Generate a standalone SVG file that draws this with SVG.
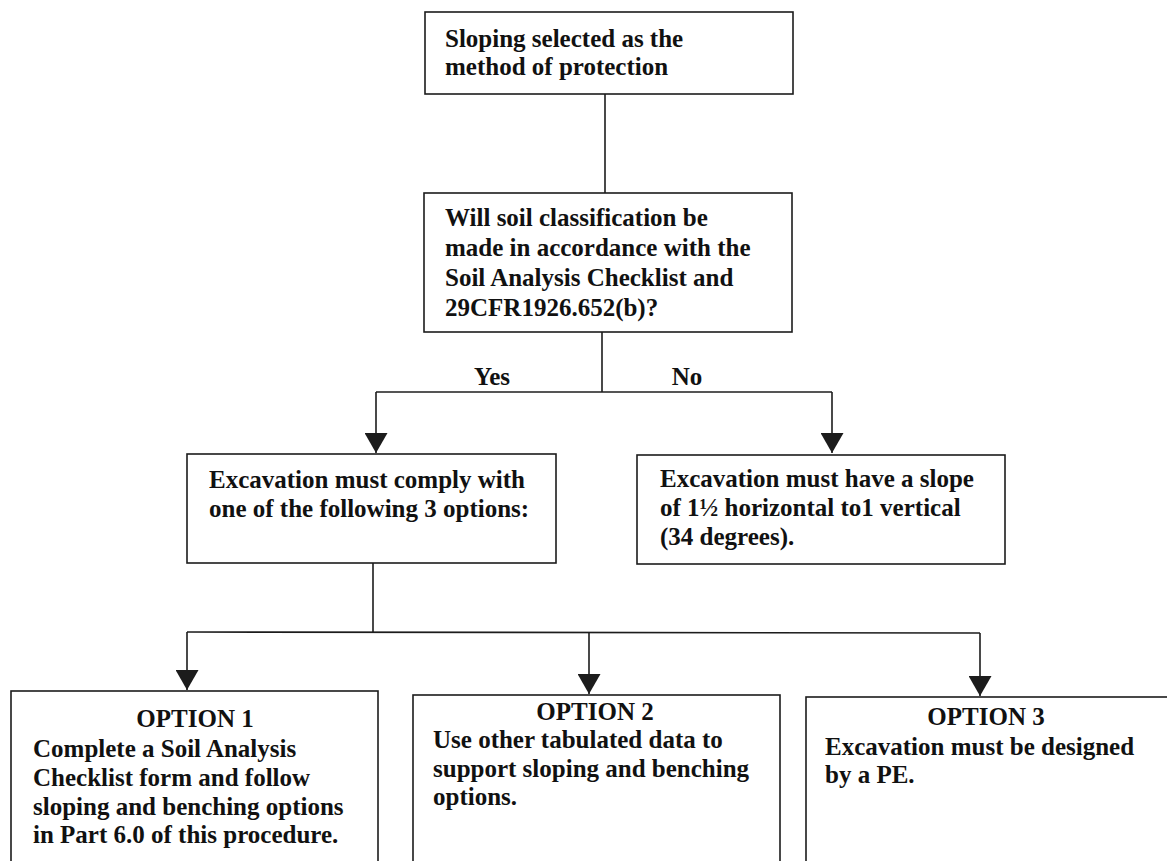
<svg xmlns="http://www.w3.org/2000/svg" width="1167" height="861" viewBox="0 0 1167 861">
<defs>
<style>
.box{fill:#fff;stroke:#1c1c1c;stroke-width:1.6}
.ln{fill:none;stroke:#1c1c1c;stroke-width:1.6}
text{font-family:"Liberation Serif","Times New Roman",serif;font-weight:bold;font-size:25px;fill:#111}
.c{text-anchor:middle}
</style>
<marker id="ah" markerUnits="userSpaceOnUse" markerWidth="20" markerHeight="23" refX="20" refY="11.5" orient="auto" viewBox="0 0 20 23">
<polygon points="0,0 20,11.5 0,23" fill="#1c1c1c"/>
</marker>
</defs>
<rect width="1167" height="861" fill="#fff"/>
<g id="connectors">
<line class="ln" x1="605" y1="94" x2="605" y2="193"/>
<polyline class="ln" points="602,332 602,392"/>
<polyline class="ln" points="376,392 832,392"/>
<line class="ln" x1="376" y1="392" x2="376" y2="453" marker-end="url(#ah)"/>
<line class="ln" x1="832" y1="392" x2="832" y2="453" marker-end="url(#ah)"/>
<polyline class="ln" points="373,563 373,632"/>
<polyline class="ln" points="187,632 980,633"/>
<line class="ln" x1="187" y1="632" x2="187" y2="690" marker-end="url(#ah)"/>
<line class="ln" x1="589" y1="633" x2="589" y2="694" marker-end="url(#ah)"/>
<line class="ln" x1="980" y1="633" x2="980" y2="696" marker-end="url(#ah)"/>
<text class="c" x="492" y="385">Yes</text>
<text class="c" x="687" y="385">No</text>
</g>
<g id="n1">
<rect class="box" x="425" y="12" width="368" height="82"/>
<text x="445" y="47">Sloping selected as the</text>
<text x="445" y="75">method of protection</text>
</g>
<g id="n2">
<rect class="box" x="424" y="193" width="368" height="139"/>
<text x="445" y="226">Will soil classification be</text>
<text x="445" y="256">made in accordance with the</text>
<text x="445" y="286">Soil Analysis Checklist and</text>
<text x="445" y="316">29CFR1926.652(b)?</text>
</g>
<g id="n3">
<rect class="box" x="187" y="454" width="369" height="109"/>
<text x="209" y="488">Excavation must comply with</text>
<text x="209" y="517">one of the following 3 options:</text>
</g>
<g id="n4">
<rect class="box" x="637" y="455" width="368" height="109"/>
<text x="660" y="487">Excavation must have a slope</text>
<text x="660" y="516">of 1½ horizontal to1 vertical</text>
<text x="660" y="545">(34 degrees).</text>
</g>
<g id="n5">
<rect class="box" x="11" y="691" width="367" height="190"/>
<text class="c" x="195" y="727">OPTION 1</text>
<text x="33" y="757">Complete a Soil Analysis</text>
<text x="33" y="786">Checklist form and follow</text>
<text x="33" y="815">sloping and benching options</text>
<text x="33" y="843">in Part 6.0 of this procedure.</text>
</g>
<g id="n6">
<rect class="box" x="413" y="695" width="367" height="190"/>
<text class="c" x="595" y="720">OPTION 2</text>
<text x="433" y="748">Use other tabulated data to</text>
<text x="433" y="777">support sloping and benching</text>
<text x="433" y="805">options.</text>
</g>
<g id="n7">
<rect class="box" x="806" y="697" width="380" height="190"/>
<text class="c" x="986" y="725">OPTION 3</text>
<text x="825" y="755">Excavation must be designed</text>
<text x="825" y="783">by a PE.</text>
</g>
</svg>
